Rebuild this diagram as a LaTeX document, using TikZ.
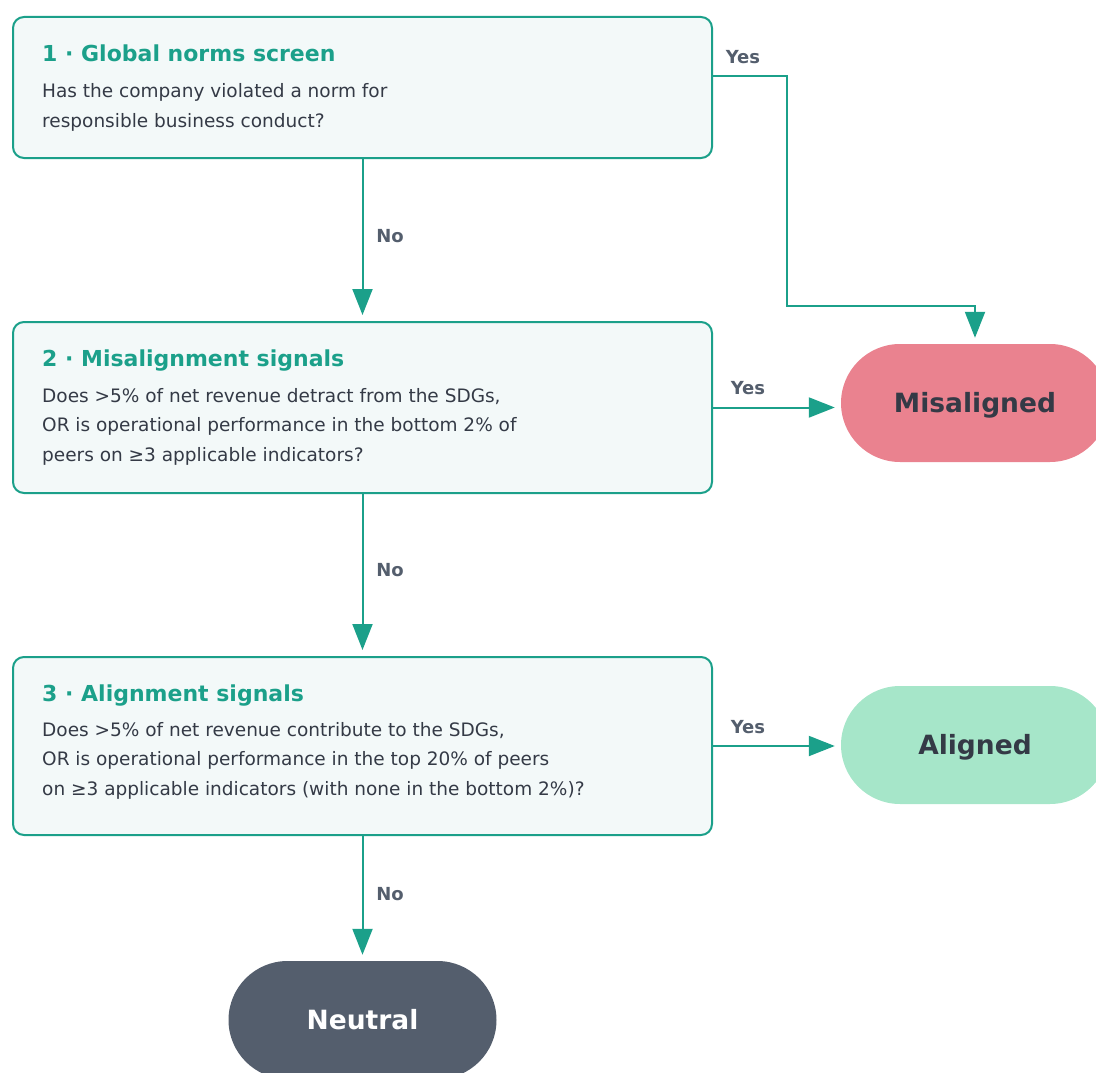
\documentclass[tikz,border=0pt]{standalone}
\usepackage{fontspec}
\setmainfont{DejaVu Sans}
\usetikzlibrary{arrows.meta,positioning,calc}
\definecolor{flowteal}{HTML}{1BA08A}
\definecolor{boxfill}{HTML}{F3F9F9}
\definecolor{bodytext}{HTML}{343A46}
\definecolor{lblgray}{HTML}{545E6D}
\definecolor{misfill}{HTML}{EA828F}
\definecolor{alfill}{HTML}{A6E6C9}
\definecolor{neufill}{HTML}{545E6D}

\begin{document}
\begin{tikzpicture}[x=1pt,y=-1pt,
  qbox/.style={draw=flowteal,line width=2pt,fill=boxfill,rounded corners=11pt,minimum width=699pt,anchor=north west,inner sep=0pt},
  qtitle/.style={anchor=base west,inner sep=0pt,text=flowteal,font=\fontsize{22}{26}\selectfont\bfseries},
  qtext/.style={anchor=north west,inner sep=0pt,align=left,text=bodytext,font=\fontsize{18.5}{29.5}\selectfont},
  term/.style={rounded corners=59pt,minimum width=268pt,minimum height=118pt,inner sep=0pt,text height=19.4pt,text depth=0pt,font=\fontsize{26.5}{30}\selectfont\bfseries},
  flow/.style={draw=flowteal,line width=2pt,-{Triangle[length=26pt,width=20pt]},shorten >=6pt},
  lbl/.style={text=lblgray,font=\fontsize{18}{20}\selectfont\bfseries,inner sep=0pt}]
\useasboundingbox (0,0) rectangle (1096,1073);
% question boxes
\node[qbox,minimum height=141pt] (b1) at (12,16){};
\node[qtitle] (t1) at (42,61.5){1 · Global norms screen};
\node[qtext] (q1) at (42,83.5){Has the company violated a norm for\\responsible business conduct?};
\node[qbox,minimum height=171pt] (b2) at (12,321){};
\node[qtitle] (t2) at (42,366){2 · Misalignment signals};
\node[qtext] (q2) at (42,388){Does >5\% of net revenue detract from the SDGs,\\OR is operational performance in the bottom 2\% of\\peers on ≥3 applicable indicators?};
\node[qbox,minimum height=178pt] (b3) at (12,656){};
\node[qtitle] (t3) at (42,701){3 · Alignment signals};
\node[qtext] (q3) at (42,722){Does >5\% of net revenue contribute to the SDGs,\\OR is operational performance in the top 20\% of peers\\on ≥3 applicable indicators (with none in the bottom 2\%)?};
% outcomes
\node[term,fill=misfill,text=bodytext] (mis) at (975,403){Misaligned};
\node[term,fill=alfill,text=bodytext] (al) at (975,745){Aligned};
\node[term,fill=neufill,text=white] (neu) at (362.5,1020){Neutral};
% connectors
\coordinate (bend) at (975,306);
\draw[flow] ([yshift=11.5pt]b1.east) -- ++(74,0) |- (bend) -- (mis.north);
\draw[flow] (b1.south) -- (b2.north);
\draw[flow] (b2.east) -- (b2.east -| mis.west);
\draw[flow] (b2.south) -- (b3.north);
\draw[flow] (b3.east) -- (b3.east -| al.west);
\draw[flow] (b3.south) -- (neu.north);
\node[lbl] (y1) at (743,57){Yes};
\node[lbl] (n1) at (390,236){No};
\node[lbl] (y2) at (748,388){Yes};
\node[lbl] (n2) at (390,570){No};
\node[lbl] (y3) at (748,727){Yes};
\node[lbl] (n3) at (390,894){No};
\end{tikzpicture}
\end{document}
